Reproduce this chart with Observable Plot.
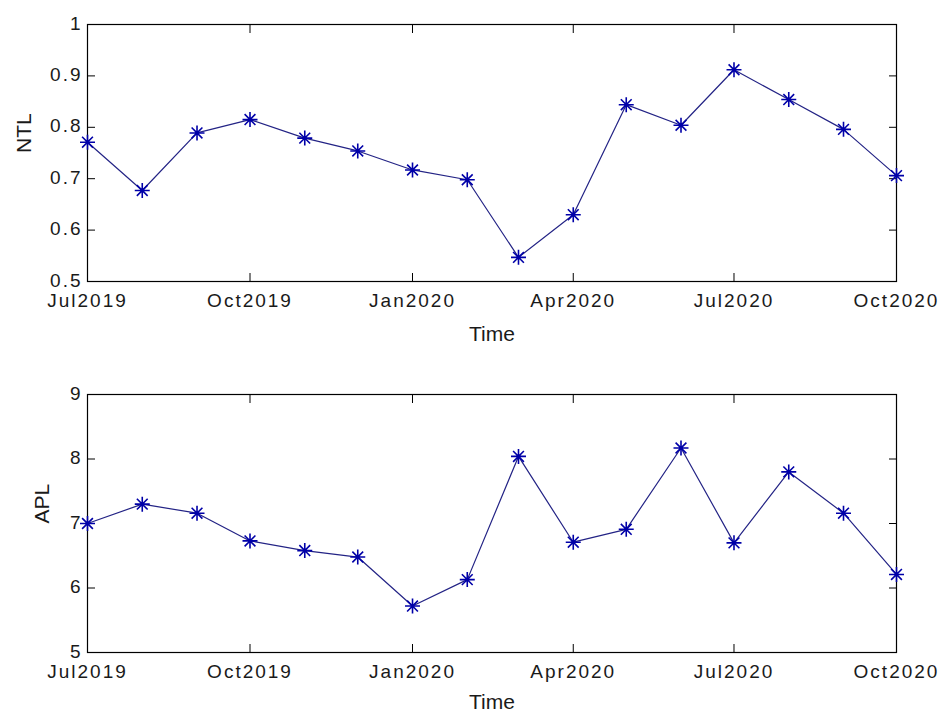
<!DOCTYPE html>
<html>
<head>
<meta charset="utf-8">
<script src="https://cdn.jsdelivr.net/npm/d3@7"></script>
<script src="https://cdn.jsdelivr.net/npm/@observablehq/plot@0.6"></script>
<style>
  body { margin: 0; background: #fff; }
  #chart { width: 941px; height: 713px; overflow: hidden; }
  #chart svg { display: block; }
  #chart g[aria-label$="tick label"] text { letter-spacing: 2px; }
</style>
</head>
<body>
<div id="chart"></div>
<script>
// ---- data ----
const months = ["2019-07","2019-08","2019-09","2019-10","2019-11","2019-12",
                "2020-01","2020-02","2020-03","2020-04","2020-05","2020-06",
                "2020-07","2020-08","2020-09","2020-10"];
const ntl = [0.771,0.677,0.789,0.815,0.779,0.754,0.717,0.698,0.547,0.630,0.844,0.804,0.912,0.854,0.796,0.706];
const apl = [7.00,7.30,7.16,6.73,6.58,6.48,5.72,6.13,8.04,6.71,6.91,8.17,6.70,7.80,7.16,6.21];
const xTicks = ["2019-07","2019-10","2020-01","2020-04","2020-07","2020-10"];
const xTickLabels = ["Jul2019","Oct2019","Jan2020","Apr2020","Jul2020","Oct2020"];
const ntlTicks = [0.5,0.6,0.7,0.8,0.9,1];
const ntlTickLabels = ["0.5","0.6","0.7","0.8","0.9","1"];
const aplTicks = [5,6,7,8,9];
const aplTickLabels = ["5","6","7","8","9"];
const xLabel = "Time";

// ---- helpers ----
const parseMonth = s => { const [y, m] = s.split("-").map(Number); return new Date(Date.UTC(y, m - 1, 1)); };
const star = {
  draw(ctx, size) {
    const r = Math.sqrt(size / Math.PI);
    const d = r * 0.72;
    ctx.moveTo(-r, 0); ctx.lineTo(r, 0);
    ctx.moveTo(0, -r); ctx.lineTo(0, r);
    ctx.moveTo(-d, -d); ctx.lineTo(d, d);
    ctx.moveTo(-d, d); ctx.lineTo(d, -d);
  }
};
const FONT = "'Liberation Sans', Arial, Helvetica, sans-serif";
const INK = "#1a1a1a";

function panel({values, yDomain, yTicks, yTickLabels, yLabel, yLabelDx, height, marginTop, marginBottom, xLabelDy}) {
  const data = months.map((m, i) => ({date: parseMonth(m), value: values[i]}));
  const xt = xTicks.map(parseMonth);
  const xfmt = d => xTickLabels[xt.findIndex(t => +t === +d)];
  const yfmt = v => yTickLabels[yTicks.indexOf(v)];
  return Plot.plot({
    width: 941,
    height,
    marginLeft: 87,
    marginRight: 45,
    marginTop,
    marginBottom,
    x: {type: "utc", domain: [xt[0], xt[xt.length - 1]]},
    y: {domain: yDomain},
    style: {fontFamily: FONT, fontSize: "20px", color: INK, background: "#fff", overflow: "visible"},
    marks: [
      // inward ticks on all four sides
      Plot.axisX({anchor: "bottom", ticks: xt, tickSize: 8, dy: -8, fill: "none", stroke: "#000", label: null}),
      Plot.axisX({anchor: "top", ticks: xt, tickSize: 8, dy: 8, fill: "none", stroke: "#000", label: null}),
      Plot.axisY({anchor: "left", ticks: yTicks, tickSize: 8, dx: 8, fill: "none", stroke: "#000", label: null}),
      Plot.axisY({anchor: "right", ticks: yTicks, tickSize: 8, dx: -8, fill: "none", stroke: "#000", label: null}),
      // tick labels
      Plot.axisX({anchor: "bottom", ticks: xt, tickSize: 0, tickPadding: 12, tickFormat: xfmt, label: null, fontSize: 19, fill: INK}),
      Plot.axisY({anchor: "left", ticks: yTicks, tickSize: 0, tickPadding: 5, tickFormat: yfmt, label: null, fontSize: 19, fill: INK, dy: -1}),
      // axis titles
      Plot.text([xLabel], {frameAnchor: "bottom", dy: xLabelDy, lineAnchor: "bottom", fontSize: 21, fill: INK}),
      Plot.text([yLabel], {frameAnchor: "left", dx: yLabelDx, rotate: -90, lineAnchor: "middle", fontSize: 21, fill: INK}),
      Plot.frame({stroke: "#000", strokeWidth: 1.2}),
      // data
      Plot.line(data, {x: "date", y: "value", stroke: "#232385", strokeWidth: 1.2}),
      Plot.dot(data, {x: "date", y: "value", symbol: star, r: 7.5, stroke: "#0000a8", fill: "none", strokeWidth: 1.6})
    ]
  });
}

const chart = document.getElementById("chart");
chart.append(panel({
  values: ntl, yDomain: [0.5, 1], yTicks: ntlTicks, yTickLabels: ntlTickLabels,
  yLabel: "NTL", yLabelDx: -63, height: 360, marginTop: 24, marginBottom: 79, xLabelDy: 59
}));
chart.append(panel({
  values: apl, yDomain: [5, 9], yTicks: aplTicks, yTickLabels: aplTickLabels,
  yLabel: "APL", yLabelDx: -45, height: 353, marginTop: 34, marginBottom: 61, xLabelDy: 56
}));
</script>
</body>
</html>
